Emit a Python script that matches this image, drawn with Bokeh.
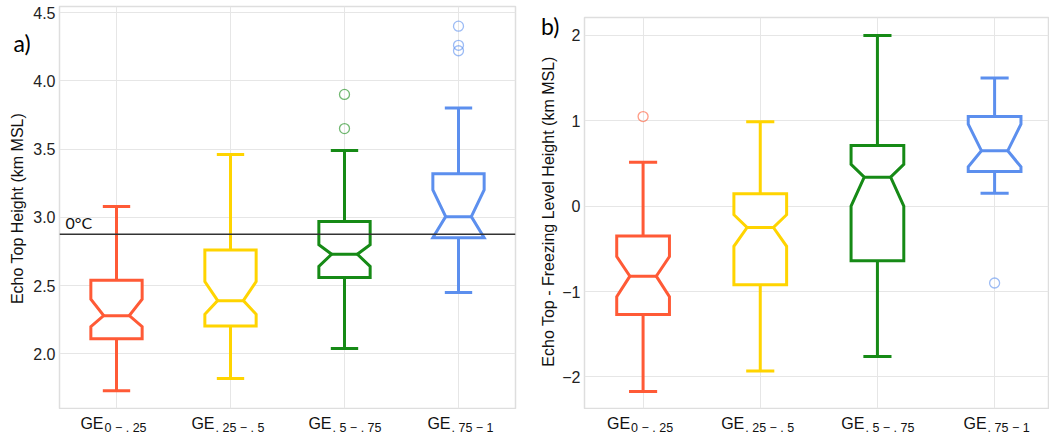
import math
from bokeh.plotting import figure
from bokeh.layouts import row, column
from bokeh.models import ColumnDataSource, FixedTicker, Label, Span, Range1d
from bokeh.core.properties import value
from bokeh.embed import file_html
from bokeh.resources import INLINE

# Graupel-fraction classes
groups = [1, 2, 3, 4]
sub_labels = ["0 \u2212 . 25", ". 25 \u2212 . 5", ". 5 \u2212 . 75", ". 75 \u2212 1"]
colors = ["#FF5A36", "#FFD400", "#168A16", "#5C8FEE"]

# a) echo top height (km MSL)
a_low = [1.73, 1.82, 2.04, 2.45]
a_q1 = [2.11, 2.205, 2.56, 2.85]
a_med = [2.28, 2.39, 2.73, 3.005]
a_q3 = [2.54, 2.76, 2.97, 3.32]
a_high = [3.08, 3.46, 3.49, 3.80]
a_notch_lo = [2.20, 2.29, 2.64, 2.85]
a_notch_hi = [2.40, 2.53, 2.80, 3.20]
a_out_x = [3, 3, 4, 4, 4]
a_out_y = [3.90, 3.65, 4.40, 4.26, 4.22]
a_ticks = [2.0, 2.5, 3.0, 3.5, 4.0, 4.5]
freezing_level = 2.876

# b) echo top minus freezing level height (km)
b_low = [-2.17, -1.93, -1.76, 0.15]
b_q1 = [-1.27, -0.92, -0.64, 0.405]
b_med = [-0.82, -0.25, 0.34, 0.65]
b_q3 = [-0.35, 0.145, 0.71, 1.05]
b_high = [0.515, 0.99, 2.00, 1.50]
b_notch_lo = [-1.06, -0.47, 0.0, 0.46]
b_notch_hi = [-0.59, -0.10, 0.49, 0.96]
b_out_x = [1, 4]
b_out_y = [1.05, -0.90]
b_ticks = [-2, -1, 0, 1, 2]

BOX_HALF = 0.225
NOTCH_HALF = 0.1125
CAP_HALF = 0.12
TICK_FONT = "Liberation Sans"
TAG_FONT = "Lato"
LABEL_SHIFTS = [-13, -16, -13, -8]
HEIGHT = 433
PANEL_H = 409


def notched_box_source(low, q1, med, q3, high, nlo, nhi):
    xs, ys = [], []
    for x, a, m, b, lo, hi in zip(groups, q1, med, q3, nlo, nhi):
        xs.append([x - BOX_HALF, x + BOX_HALF, x + BOX_HALF, x + NOTCH_HALF,
                   x + BOX_HALF, x + BOX_HALF, x - BOX_HALF, x - BOX_HALF,
                   x - NOTCH_HALF, x - BOX_HALF])
        ys.append([b, b, hi, m, lo, a, a, lo, m, hi])
    return ColumnDataSource(dict(
        xs=xs, ys=ys, x=groups, color=colors,
        low=low, q1=q1, med=med, q3=q3, high=high,
        x0=[g - NOTCH_HALF for g in groups], x1=[g + NOTCH_HALF for g in groups],
        c0=[g - CAP_HALF for g in groups], c1=[g + CAP_HALF for g in groups],
    ))


def make_panel(width, border_left, border_right, border_top, y_start, y_end,
               y_ticks, x_end, stats, outliers):
    p = figure(width=width, height=PANEL_H, output_backend="svg",
               toolbar_location=None, x_range=Range1d(0.5, x_end),
               y_range=Range1d(y_start, y_end),
               min_border_left=border_left, min_border_right=border_right,
               min_border_top=border_top, min_border_bottom=1)
    p.background_fill_color = "white"
    p.border_fill_color = "white"
    p.outline_line_color = "#dedede"
    p.outline_line_width = 1.5

    p.xaxis.visible = False
    p.xgrid.ticker = FixedTicker(ticks=groups)
    p.xgrid.grid_line_color = "#e6e6e6"
    p.ygrid.grid_line_color = "#e6e6e6"
    p.ygrid.grid_line_width = 1.2

    ax = p.yaxis[0]
    ax.ticker = FixedTicker(ticks=y_ticks)
    ax.axis_line_color = None
    ax.major_tick_line_color = None
    ax.minor_tick_line_color = None
    ax.major_tick_out = 0
    ax.major_label_standoff = 4
    ax.major_label_text_font = TICK_FONT
    ax.major_label_text_font_size = "16px"
    ax.major_label_text_color = "#222222"

    src = notched_box_source(*stats)
    p.segment(x0="x", y0="q3", x1="x", y1="high", source=src,
              line_color="color", line_width=3)
    p.segment(x0="x", y0="q1", x1="x", y1="low", source=src,
              line_color="color", line_width=3)
    p.segment(x0="c0", y0="high", x1="c1", y1="high", source=src,
              line_color="color", line_width=3)
    p.segment(x0="c0", y0="low", x1="c1", y1="low", source=src,
              line_color="color", line_width=3)
    p.patches(xs="xs", ys="ys", source=src, fill_color="white",
              line_color="color", line_width=3, line_join="miter")
    p.segment(x0="x0", y0="med", x1="x1", y1="med", source=src,
              line_color="color", line_width=3)

    ox, oy = outliers
    p.scatter(x=ox, y=oy, marker="circle", size=10, fill_color=None,
              line_color=[colors[i - 1] for i in ox], line_alpha=0.6,
              line_width=1.3)
    return p


def plain_canvas(width, height, x_range=None):
    """Figure with no axes, grid or outline; y counts pixels from the top."""
    s = figure(width=width, height=height, output_backend="svg",
               toolbar_location=None,
               x_range=x_range if x_range is not None else Range1d(0, width),
               y_range=Range1d(height, 0), min_border=0)
    s.axis.visible = False
    s.grid.visible = False
    s.outline_line_color = None
    s.border_fill_color = "white"
    s.background_fill_color = "white"
    return s


def category_strip(width, border_left, border_right, x_range):
    """Row of 'GE' labels with subscripted class ranges under a panel."""
    s = plain_canvas(width, HEIGHT - PANEL_H, x_range)
    s.min_border_left = border_left
    s.min_border_right = border_right
    src = ColumnDataSource(dict(x=groups, ge=["GE"] * 4, sub=sub_labels,
                                dx=LABEL_SHIFTS,
                                dx2=[d + 1 for d in LABEL_SHIFTS]))
    s.text(x="x", y=14, text="ge", x_offset="dx", source=src,
           text_align="right", text_baseline="alphabetic",
           text_font=value(TICK_FONT), text_font_size="16px",
           text_color="#111111")
    s.text(x="x", y=18, text="sub", x_offset="dx2", source=src,
           text_align="left", text_baseline="alphabetic",
           text_font=value(TICK_FONT), text_font_size="12.5px",
           text_color="#111111")
    return s


def title_column(width, tag, tag_x, tag_y, title, title_x, title_y):
    """Panel tag and rotated y-axis title left of a panel."""
    s = plain_canvas(width, HEIGHT)
    s.text(x=[tag_x], y=[tag_y], text=[tag], text_align="left",
           text_baseline="alphabetic", text_font=value(TAG_FONT),
           text_font_size="23px", text_color="#000000")
    s.text(x=[title_x], y=[title_y], text=[title], angle=math.pi / 2,
           text_align="center", text_baseline="middle",
           text_font=value(TICK_FONT), text_font_size="16px",
           text_color="#111111")
    return s


# panel a
title_a = title_column(30, "a)", 13, 42, "Echo Top Height (km MSL)", 17, 208)
pa = make_panel(500, 27, 15, 6, 1.60, 4.544, a_ticks, 4.5,
                (a_low, a_q1, a_med, a_q3, a_high, a_notch_lo, a_notch_hi),
                (a_out_x, a_out_y))
pa.yaxis[0].major_label_overrides = {v: f"{v:.1f}" for v in a_ticks}
pa.add_layout(Span(location=freezing_level, dimension="width",
                   line_color="#333333", line_width=1.5))
pa.add_layout(Label(x=0.5, y=freezing_level, x_offset=6, y_offset=2,
                    text="0\u00b0C", text_align="left",
                    text_baseline="bottom", text_font=TAG_FONT,
                    text_font_size="16px", text_color="#111111"))
strip_a = category_strip(500, 27, 15, pa.x_range)

# panel b
title_b = title_column(29, "b)", 10.5, 25,
                       "Echo Top - Freezing Level Height (km MSL)", 18, 211)
pb = make_panel(490, 19, 1, 17, -2.37, 2.21, b_ticks, 4.46,
                (b_low, b_q1, b_med, b_q3, b_high, b_notch_lo, b_notch_hi),
                (b_out_x, b_out_y))
strip_b = category_strip(490, 19, 1, pb.x_range)

layout = row(column(title_a), column(pa, strip_a, spacing=0),
             column(title_b), column(pb, strip_b, spacing=0))
open("out.html", "w").write(file_html(layout, INLINE))
